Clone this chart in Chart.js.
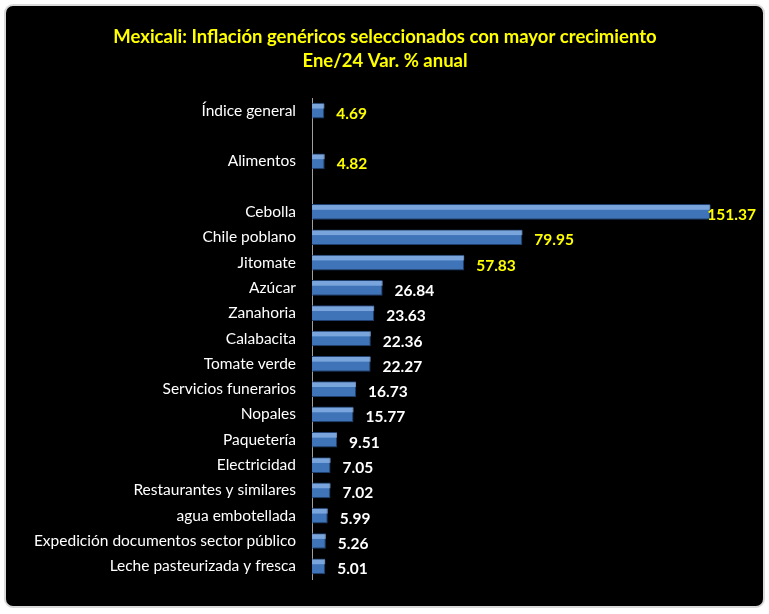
<!DOCTYPE html>
<html><head><meta charset="utf-8">
<script src="https://cdn.jsdelivr.net/npm/chart.js@4"></script>
<style>html,body{margin:0;background:#fff}#w{width:769px;height:614px}</style>
</head><body><div id="w"><canvas id="c"></canvas></div>
<script>
const titleLines = ["Mexicali: Inflación genéricos seleccionados con mayor crecimiento", "Ene/24 Var. % anual"];
const categories = ["Índice general","","Alimentos","","Cebolla","Chile poblano","Jitomate","Azúcar","Zanahoria","Calabacita","Tomate verde","Servicios funerarios","Nopales","Paquetería","Electricidad","Restaurantes y similares","agua embotellada","Expedición documentos sector público","Leche pasteurizada y fresca"];
const values = [4.69,null,4.82,null,151.37,79.95,57.83,26.84,23.63,22.36,22.27,16.73,15.77,9.51,7.05,7.02,5.99,5.26,5.01];
const labelColors = ["#ffff00",null,"#ffff00",null,"#ffff00","#ffff00","#ffff00","#fff","#fff","#fff","#fff","#fff","#fff","#fff","#fff","#fff","#fff","#fff","#fff"];
const FONT = "Lato, 'Open Sans', sans-serif";

const bgPlugin = {
  id:'bg',
  beforeDraw(ch){
    const c=ch.ctx; c.save();
    c.fillStyle='#fff'; c.fillRect(0,0,ch.width,ch.height);
    c.fillStyle='#000'; c.strokeStyle='#d9d9d9'; c.lineWidth=2;
    c.beginPath(); c.roundRect(5,5,ch.width-10,ch.height-12,8); c.fill(); c.stroke();
    c.fillStyle='#ffff00'; c.font="bold 18.5px "+FONT; c.textAlign='center'; c.textBaseline='middle';
    c.fillText(titleLines[0],385,37); c.fillText(titleLines[1],385,61);
    c.restore();
  },
  afterDatasetsDraw(ch){
    const c=ch.ctx; const meta=ch.getDatasetMeta(0); c.save();
    c.font="bold 15.5px "+FONT; c.textBaseline='middle'; c.textAlign='left';
    meta.data.forEach((b,i)=>{
      if(values[i]==null) return;
      const h=b.height;
      c.fillStyle='rgba(170,205,250,0.55)';
      c.fillRect(b.base, b.y-h/2+1, b.x-b.base, h*0.3);
      c.fillStyle=labelColors[i];
      const t=values[i].toFixed(2);
      let x=b.x+12;
      if(i===4){x=b.x-3;}
      c.fillText(t,x,b.y+3);
    });
    c.restore();
  }
};

new Chart(document.getElementById('c'),{
  type:'bar',
  data:{labels:categories,datasets:[{data:values,backgroundColor:'#3f74b8',borderColor:'#1f3f6e',borderWidth:1,categoryPercentage:1,barPercentage:0.62}]},
  options:{
    indexAxis:'y',responsive:true,maintainAspectRatio:false,animation:false,
    layout:{padding:{left:0,right:36,top:98,bottom:35}},
    plugins:{legend:{display:false},tooltip:{enabled:false}},
    scales:{
      x:{display:false,min:0,max:160},
      y:{grid:{display:false,drawTicks:false},border:{display:true,color:'#a0a0a0',width:1},
         ticks:{color:'#fff',font:{family:FONT,size:15.5},padding:16,autoSkip:false},
         afterFit(s){s.width=312;}}
    }
  },
  plugins:[bgPlugin]
});
</script></body></html>
